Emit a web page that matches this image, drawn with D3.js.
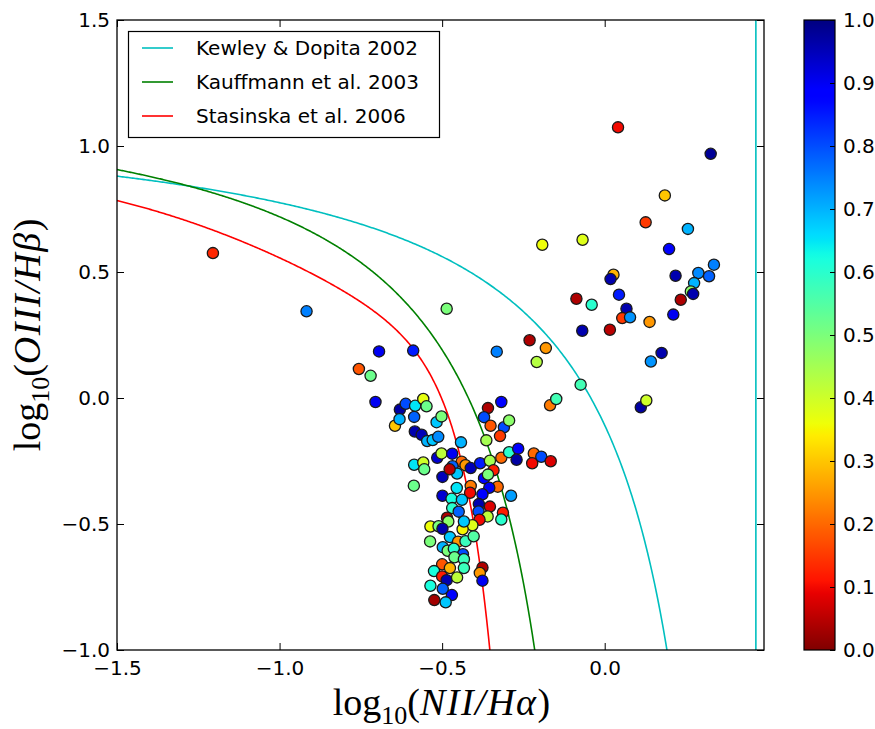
<!DOCTYPE html>
<html>
<head>
<meta charset="utf-8">
<script src="https://cdn.jsdelivr.net/npm/d3@7"></script>
<style>
  html, body { margin: 0; padding: 0; background: #fff; }
  svg { display: block; }
  .tick text { font-family: "DejaVu Sans", sans-serif; }
</style>
</head>
<body>
<svg id="chart" width="875" height="729"></svg>
<script>
// ---------------- DATA ----------------
// log10(NII/Halpha)
const xs = [
  -1.205,-0.917,-0.486,-0.694,-0.589,-0.756,-0.720,-0.705,-0.645,-0.630,
  -0.631,-0.612,-0.583,-0.586,-0.558,-0.548,-0.584,-0.563,-0.546,-0.529,
  -0.512,-0.517,-0.502,-0.515,-0.502,-0.586,-0.558,-0.555,-0.499,-0.587,
  -0.499,-0.442,-0.359,-0.318,-0.371,-0.351,-0.310,-0.294,-0.322,-0.364,
  -0.209,-0.231,-0.181,-0.332,-0.074,-0.168,-0.149, 0.111, 0.128, 0.142,
   0.175, 0.041, 0.326, 0.185, 0.126, 0.256, 0.198,-0.068,-0.192, 0.336,
   0.288, 0.321, 0.218, 0.275, 0.265, 0.272, 0.234, 0.211, 0.027, 0.018,
   0.044,-0.087,-0.040, 0.067, 0.054, 0.078, 0.138,-0.069, 0.016,-0.469,
  -0.440,-0.428,-0.468,-0.454,-0.477,-0.412,-0.383,-0.353,-0.342,-0.371,
  -0.359,-0.318,-0.294,-0.266,-0.271,-0.218,-0.195,-0.223,-0.166,-0.329,
  -0.355,-0.376,-0.412,-0.414,-0.455,-0.471,-0.439,-0.469,-0.449,-0.387,
  -0.353,-0.388,-0.313,-0.318,-0.360,-0.385,-0.407,-0.485,-0.481,-0.536,
  -0.511,-0.499,-0.437,-0.433,-0.476,-0.451,-0.428,-0.403,-0.498,-0.483,
  -0.464,-0.436,-0.462,-0.433,-0.537,-0.433,-0.500,-0.476,-0.525,-0.500,
  -0.486,-0.454,-0.536,-0.498,-0.470,-0.524,-0.489,-0.376,-0.384,-0.376,
  -0.288
];
// log10(OIII/Hbeta)
const ys = [
   0.575, 0.344, 0.354, 0.185, 0.188, 0.115, 0.088,-0.016,-0.110,-0.046,
  -0.084,-0.023,-0.031,-0.075,-0.004,-0.033,-0.133,-0.146,-0.171,-0.167,
  -0.154,-0.096,-0.073,-0.237,-0.220,-0.265,-0.256,-0.283,-0.313,-0.348,
  -0.388,-0.176,-0.040,-0.016,-0.076,-0.110,-0.116,-0.089,-0.151,-0.168,
   0.143, 0.229, 0.198, 0.184, 0.053,-0.029,-0.004,-0.037,-0.010, 0.145,
   0.179, 1.074, 0.969, 0.804, 0.697, 0.671, 0.591, 0.628, 0.608, 0.529,
   0.496, 0.483, 0.485, 0.456, 0.423, 0.413, 0.390, 0.331, 0.489, 0.472,
   0.410, 0.394, 0.370, 0.354, 0.317, 0.320, 0.302, 0.267, 0.271,-0.221,
  -0.253,-0.267,-0.271,-0.300,-0.283,-0.278,-0.259,-0.249,-0.287,-0.318,
  -0.304,-0.237,-0.215,-0.201,-0.245,-0.220,-0.233,-0.259,-0.251,-0.352,
  -0.356,-0.382,-0.349,-0.376,-0.357,-0.400,-0.404,-0.437,-0.451,-0.421,
  -0.431,-0.450,-0.455,-0.482,-0.470,-0.483,-0.505,-0.475,-0.490,-0.510,
  -0.509,-0.519,-0.521,-0.490,-0.552,-0.570,-0.568,-0.549,-0.592,-0.606,
  -0.598,-0.620,-0.632,-0.640,-0.569,-0.675,-0.660,-0.675,-0.687,-0.708,
  -0.723,-0.712,-0.745,-0.757,-0.782,-0.802,-0.811,-0.673,-0.694,-0.725,
  -0.388
];
// colour value (0..1)
const cs = [
  0.13,0.75,0.50,0.90,0.85,0.18,0.52,0.90,0.30,0.97,
  0.70,0.80,0.65,0.78,0.37,0.52,0.96,0.95,0.70,0.68,
  0.74,0.68,0.50,0.93,0.42,0.65,0.40,0.52,0.95,0.52,
  0.93,0.70,0.04,0.88,0.80,0.18,0.80,0.48,0.15,0.45,
  0.43,0.04,0.25,0.75,0.57,0.22,0.57,0.97,0.40,0.73,
  0.96,0.10,0.98,0.30,0.15,0.70,0.88,0.38,0.36,0.75,
  0.74,0.78,0.96,0.70,0.48,0.96,0.04,0.90,0.28,0.96,
  0.85,0.04,0.60,0.96,0.15,0.73,0.25,0.96,0.05,0.90,
  0.20,0.25,0.78,0.68,0.05,0.95,0.85,0.45,0.12,0.88,
  0.50,0.20,0.60,0.88,0.97,0.20,0.80,0.10,0.08,0.20,
  0.90,0.88,0.22,0.10,0.65,0.62,0.68,0.60,0.78,0.96,
  0.08,0.80,0.12,0.60,0.42,0.10,0.38,0.04,0.48,0.36,
  0.50,0.96,0.35,0.68,0.68,0.25,0.58,0.55,0.70,0.50,
  0.60,0.80,0.52,0.58,0.50,0.58,0.18,0.28,0.62,0.12,
  0.96,0.42,0.62,0.78,0.88,0.03,0.68,0.04,0.25,0.90,
  0.72
];

const xTicks = [-1.5, -1.0, -0.5, 0.0];
const yTicks = [-1.0, -0.5, 0.0, 0.5, 1.0, 1.5];
const cTicks = [0.0, 0.1, 0.2, 0.3, 0.4, 0.5, 0.6, 0.7, 0.8, 0.9, 1.0];
const legendNames = ["Kewley & Dopita 2002", "Kauffmann et al. 2003", "Stasinska et al. 2006"];
const legendColors = ["#00bfbf", "#008000", "#ff0000"];

// published demarcation-line coefficients
const kewleyCoef = [0.61, 0.47, 1.19];      // 0.61/(x-0.47)+1.19
const kauffCoef  = [0.61, 0.05, 1.30];      // 0.61/(x-0.05)+1.3
const stasCoef   = [-30.787, 1.1358, 0.27297, 5.7409, -31.093];
const kewleyJumpX = 0.465;                  // where the plotted curve jumps (vertical line)

// ---------------- LAYOUT ----------------
const svg = d3.select("#chart");
const L = 117, R = 764, T = 20, B = 650;
const x = d3.scaleLinear().domain([-1.5, 0.49]).range([L, R]);
const y = d3.scaleLinear().domain([-1.0, 1.5]).range([B, T]);

// jet colormap (reversed: 0 = dark red, 1 = navy)
const jr = d3.scaleLinear().domain([0, 0.35, 0.66, 0.89, 1]).range([0, 0, 1, 1, 0.5]).clamp(true);
const jg = d3.scaleLinear().domain([0, 0.125, 0.375, 0.64, 0.91, 1]).range([0, 0, 1, 1, 0, 0]).clamp(true);
const jb = d3.scaleLinear().domain([0, 0.11, 0.34, 0.65, 1]).range([0.5, 1, 1, 0, 0]).clamp(true);
const cmap = c => { const v = 1 - c; return d3.rgb(255*jr(v), 255*jg(v), 255*jb(v)).toString(); };

svg.append("defs").append("clipPath").attr("id", "clip")
  .append("rect").attr("x", L).attr("y", T).attr("width", R - L).attr("height", B - T);

// ---------------- CURVES ----------------
const line = d3.line().x(d => x(d[0])).y(d => y(d[1]));
const gCurves = svg.append("g").attr("clip-path", "url(#clip)");

function sample(fn, x0, x1, n) {
  const out = [];
  for (let i = 0; i <= n; i++) { const xv = x0 + (x1 - x0) * i / n; out.push([xv, fn(xv)]); }
  return out;
}
const kew = xv => kewleyCoef[0] / (xv - kewleyCoef[1]) + kewleyCoef[2];
const kau = xv => kauffCoef[0] / (xv - kauffCoef[1]) + kauffCoef[2];
const sta = xv => (stasCoef[0] + stasCoef[1]*xv + stasCoef[2]*xv*xv) * Math.tanh(stasCoef[3]*xv) + stasCoef[4];

gCurves.append("path").attr("d", line(sample(kew, -1.5, 0.25, 400)))
  .attr("fill", "none").attr("stroke", legendColors[0]).attr("stroke-width", 1.6);
gCurves.append("path").attr("d", line([[kewleyJumpX, -1.0], [kewleyJumpX, 1.5]]))
  .attr("fill", "none").attr("stroke", legendColors[0]).attr("stroke-width", 1.6);
gCurves.append("path").attr("d", line(sample(kau, -1.5, -0.2, 400)))
  .attr("fill", "none").attr("stroke", legendColors[1]).attr("stroke-width", 1.6);
gCurves.append("path").attr("d", line(sample(sta, -1.5, -0.34, 400)))
  .attr("fill", "none").attr("stroke", legendColors[2]).attr("stroke-width", 1.6);

// ---------------- POINTS ----------------
const pts = xs.map((v, i) => ({x: v, y: ys[i], c: cs[i]}));
svg.append("g").attr("clip-path", "url(#clip)")
  .selectAll("circle").data(pts).join("circle")
  .attr("cx", d => x(d.x)).attr("cy", d => y(d.y)).attr("r", 5.6)
  .attr("fill", d => cmap(d.c)).attr("stroke", "#1a1a1a").attr("stroke-width", 1.3);

// ---------------- AXES ----------------
const fmt = d3.format(".1f");
const minusFmt = v => fmt(v).replace("-", "\u2212");
const tl = 7;
function styleAxis(g, labels) {
  g.select(".domain").remove();
  g.selectAll(".tick line").attr("stroke", "#000").attr("stroke-width", 1);
  g.selectAll(".tick text").attr("font-size", 20).attr("fill", "#000");
  if (!labels) g.selectAll(".tick text").remove();
}
svg.append("g").attr("transform", `translate(0,${B})`)
  .call(d3.axisBottom(x).tickValues(xTicks).tickSizeInner(-tl).tickSizeOuter(0).tickPadding(11).tickFormat(minusFmt))
  .call(g => styleAxis(g, true));
svg.append("g").attr("transform", `translate(0,${T})`)
  .call(d3.axisTop(x).tickValues(xTicks).tickSizeInner(-tl).tickSizeOuter(0))
  .call(g => styleAxis(g, false));
svg.append("g").attr("transform", `translate(${L},0)`)
  .call(d3.axisLeft(y).tickValues(yTicks).tickSizeInner(-tl).tickSizeOuter(0).tickPadding(7).tickFormat(minusFmt))
  .call(g => styleAxis(g, true));
svg.append("g").attr("transform", `translate(${R},0)`)
  .call(d3.axisRight(y).tickValues(yTicks).tickSizeInner(-tl).tickSizeOuter(0))
  .call(g => styleAxis(g, false));

svg.append("rect").attr("x", L).attr("y", T).attr("width", R - L).attr("height", B - T)
  .attr("fill", "none").attr("stroke", "#000").attr("stroke-width", 1.3);

// ---------------- AXIS LABELS ----------------
const labFont = "'Liberation Serif', 'DejaVu Serif', serif";
function mathLabel(sel, name) {
  sel.attr("font-family", labFont).attr("font-size", 38).attr("fill", "#000");
  sel.append("tspan").text("log");
  sel.append("tspan").attr("font-size", 26).attr("dy", 9).text("10");
  sel.append("tspan").attr("dy", -9).text("(");
  sel.append("tspan").attr("font-style", "italic").attr("letter-spacing", 1.5).text(name);
  sel.append("tspan").text(")");
}
svg.append("text").attr("x", (L + R) / 2 + 1).attr("y", 715).attr("text-anchor", "middle")
  .call(s => mathLabel(s, "NII/H\u03b1"));
svg.append("text").attr("transform", `translate(40,${(T + B) / 2}) rotate(-90)`).attr("text-anchor", "middle")
  .call(s => mathLabel(s, "OIII/H\u03b2"));

// ---------------- LEGEND ----------------
const lg = svg.append("g");
lg.append("rect").attr("x", 128.5).attr("y", 31.5).attr("width", 311).attr("height", 106)
  .attr("fill", "#fff").attr("stroke", "#000").attr("stroke-width", 1.2);
legendNames.forEach((n, i) => {
  const yy = 48 + i * 34;
  lg.append("line").attr("x1", 142).attr("x2", 173).attr("y1", yy).attr("y2", yy)
    .attr("stroke", legendColors[i]).attr("stroke-width", 1.6);
  lg.append("text").attr("x", 196).attr("y", yy).attr("dy", "0.36em")
    .attr("font-family", "'DejaVu Sans', sans-serif").attr("font-size", 20).attr("fill", "#000").text(n);
});

// ---------------- COLORBAR ----------------
const cbL = 804, cbR = 835;
const cy = d3.scaleLinear().domain([0, 1]).range([B, T]);
const grad = svg.select("defs").append("linearGradient").attr("id", "cbgrad")
  .attr("x1", 0).attr("y1", 1).attr("x2", 0).attr("y2", 0);
d3.range(0, 1.0001, 0.01).forEach(v => {
  grad.append("stop").attr("offset", v).attr("stop-color", cmap(v));
});
svg.append("rect").attr("x", cbL).attr("y", T).attr("width", cbR - cbL).attr("height", B - T)
  .attr("fill", "url(#cbgrad)").attr("stroke", "#000").attr("stroke-width", 1.2);
svg.append("g").attr("transform", `translate(${cbR},0)`)
  .call(d3.axisRight(cy).tickValues(cTicks).tickSizeInner(-5).tickSizeOuter(0).tickPadding(8).tickFormat(fmt))
  .call(g => styleAxis(g, true));
</script>
</body>
</html>
